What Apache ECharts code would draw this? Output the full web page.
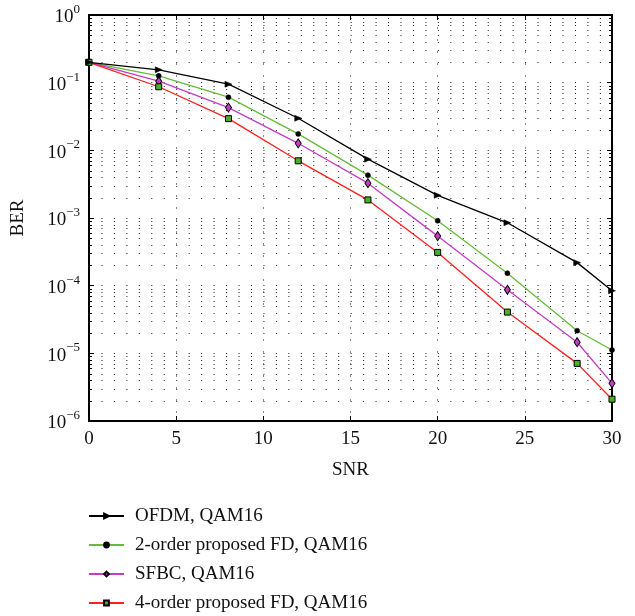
<!DOCTYPE html>
<html>
<head>
<meta charset="utf-8">
<script src="https://cdn.jsdelivr.net/npm/echarts@6/dist/echarts.min.js"></script>
<style>
html,body{margin:0;padding:0;background:#fff;}
#chart{width:635px;height:616px;}
</style>
</head>
<body>
<div id="chart"></div>
<script>
var snr = [0, 4, 8, 12, 16, 20, 24, 28, 30];
var berOFDM = [0.2, 0.155, 0.095, 0.0298, 0.0074, 0.00216, 0.00085, 0.000219, 0.000084];
var ber2FD = [0.2, 0.126, 0.061, 0.0175, 0.0043, 0.00091, 0.000153, 0.0000216, 0.0000112];
var berSFBC = [0.2, 0.105, 0.0428, 0.0127, 0.00327, 0.00054, 0.000087, 0.0000146, 0.0000036];
var ber4FD = [0.2, 0.087, 0.0294, 0.0070, 0.00185, 0.00031, 0.0000407, 0.0000071, 0.0000021];
var seriesNames = ['OFDM, QAM16', '2-order proposed FD, QAM16', 'SFBC, QAM16', '4-order proposed FD, QAM16'];
var xTicks = [0, 5, 10, 15, 20, 25, 30];
var decadeExps = [-6, -5, -4, -3, -2, -1];
var minorMult = [2, 3, 4, 5, 6, 7, 8, 9];

var minorVals = [];
decadeExps.forEach(function (e) {
  minorMult.forEach(function (m) { minorVals.push([0, m * Math.pow(10, e)]); });
});

function pairs(ys) { return snr.map(function (x, i) { return [x, ys[i]]; }); }

var FONT = 'Liberation Serif';
var chart = echarts.init(document.getElementById('chart'));

var option = {
  backgroundColor: '#fff',
  animation: false,
  textStyle: { fontFamily: FONT },
  grid: { left: 89, right: 23, top: 15, bottom: 195 },
  legend: {
    orient: 'vertical',
    left: 88,
    top: 506,
    height: 110,
    padding: 0,
    itemWidth: 35,
    itemHeight: 6,
    itemGap: 9,
    data: seriesNames,
    textStyle: { fontFamily: FONT, fontSize: 19, color: '#111', lineHeight: 20, padding: [0, 0, 0, 6] }
  },
  xAxis: [{
    type: 'value', min: 0, max: 30, interval: 5,
    name: 'SNR', nameLocation: 'middle', nameGap: 40,
    nameTextStyle: { fontFamily: FONT, fontSize: 19, color: '#111' },
    axisLine: { show: true, onZero: false, lineStyle: { color: '#000', width: 2 } },
    axisTick: { show: true, inside: true, length: 5, lineStyle: { color: '#000', width: 1 } },
    axisLabel: { fontFamily: FONT, fontSize: 19, color: '#111', margin: 9,
      formatter: function (v) { return xTicks.indexOf(v) >= 0 ? String(v) : ''; } },
    splitLine: { show: true, lineStyle: { color: '#888', width: 1, type: [2, 10] } }
  }, {
    type: 'value', min: 0, max: 30, interval: 5, position: 'top',
    axisLine: { show: true, onZero: false, lineStyle: { color: '#000', width: 2 } },
    axisTick: { show: true, inside: true, length: 5, lineStyle: { color: '#000', width: 1 } },
    axisLabel: { show: false },
    splitLine: { show: false }
  }],
  yAxis: [{
    type: 'log', logBase: 10, min: 1e-6, max: 1,
    name: 'BER', nameLocation: 'middle', nameGap: 61, nameRotate: 90,
    nameTextStyle: { fontFamily: FONT, fontSize: 19, color: '#111' },
    axisLine: { show: true, onZero: false, lineStyle: { color: '#000', width: 2 } },
    axisTick: { show: true, inside: true, length: 5, lineStyle: { color: '#000', width: 1 } },
    axisLabel: {
      margin: 9, color: '#111',
      formatter: function (v) {
        var e = Math.round(Math.log(v) / Math.LN10);
        return '{b|10}{s|' + (e < 0 ? '\u2212' + (-e) : e) + '}';
      },
      rich: {
        b: { fontFamily: FONT, fontSize: 19, color: '#111', lineHeight: 24, verticalAlign: 'bottom' },
        s: { fontFamily: FONT, fontSize: 13, color: '#111', lineHeight: 24, verticalAlign: 'top' }
      }
    },
    splitLine: { show: true, lineStyle: { color: '#222', width: 1, type: [1, 11.46] } }
  }, {
    type: 'log', logBase: 10, min: 1e-6, max: 1, position: 'right',
    axisLine: { show: true, onZero: false, lineStyle: { color: '#000', width: 2 } },
    axisTick: { show: true, inside: true, length: 5, lineStyle: { color: '#000', width: 1 } },
    axisLabel: { show: false },
    splitLine: { show: false }
  }],
  series: [
    {
      type: 'custom', silent: true, xAxisIndex: 0, yAxisIndex: 0,
      data: minorVals, encode: { x: 0, y: 1 }, z: 1, clip: false,
      renderItem: function (params, api) {
        var p = api.coord([0, api.value(1)]);
        var cs = params.coordSys;
        var y = Math.round(p[1]) + 0.5;
        return {
          type: 'group', children: [
            { type: 'line', shape: { x1: cs.x, y1: y, x2: cs.x + cs.width, y2: y },
              style: { stroke: '#222', lineWidth: 1, lineDash: [1, 11.46] } },
            { type: 'line', shape: { x1: cs.x, y1: y, x2: cs.x + 3, y2: y },
              style: { stroke: '#000', lineWidth: 1 } },
            { type: 'line', shape: { x1: cs.x + cs.width - 3, y1: y, x2: cs.x + cs.width, y2: y },
              style: { stroke: '#000', lineWidth: 1 } }
          ]
        };
      }
    },
    {
      name: seriesNames[0], type: 'line', data: pairs(berOFDM), z: 5,
      symbol: 'triangle', symbolRotate: -90, symbolSize: [6, 7],
      lineStyle: { color: '#000', width: 1.3 },
      itemStyle: { color: '#000', borderColor: '#000', borderWidth: 0.5 }
    },
    {
      name: seriesNames[1], type: 'line', data: pairs(ber2FD), z: 4,
      symbol: 'circle', symbolSize: 5,
      lineStyle: { color: '#66bb3a', width: 1.3 },
      itemStyle: { color: '#000', borderColor: '#000', borderWidth: 0.5 }
    },
    {
      name: seriesNames[2], type: 'line', data: pairs(berSFBC), z: 4,
      symbol: 'diamond', symbolSize: [6, 9],
      lineStyle: { color: '#c43dc4', width: 1.3 },
      itemStyle: { color: '#c43dc4', borderColor: '#000', borderWidth: 1 }
    },
    {
      name: seriesNames[3], type: 'line', data: pairs(ber4FD), z: 4,
      symbol: 'rect', symbolSize: 6,
      lineStyle: { color: '#ff2020', width: 1.3 },
      itemStyle: { color: '#4caf28', borderColor: '#000', borderWidth: 1 }
    }
  ]
};
chart.setOption(option);
</script>
</body>
</html>
